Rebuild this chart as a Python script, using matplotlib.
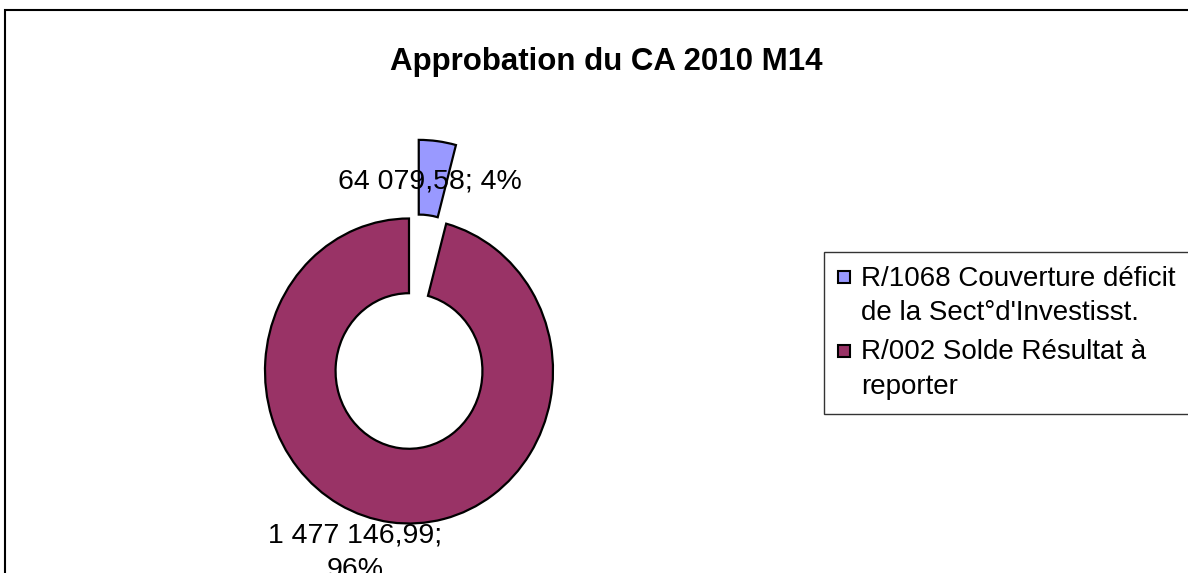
import matplotlib.pyplot as plt
from matplotlib.lines import Line2D
from matplotlib.patches import Rectangle

plt.rcParams['font.family'] = ['Liberation Sans', 'DejaVu Sans']

# data
labels = ["R/1068 Couverture déficit\nde la Sect°d'Investisst.",
          "R/002 Solde Résultat à\nreporter"]
values = [64079.58, 1477146.99]
colors = ['#9999FF', '#993366']
title = "Approbation du CA 2010 M14"


def fr_num(v):
    return f"{v:,.2f}".replace(",", " ").replace(".", ",")


total = sum(values)
pct = [round(v / total * 100) for v in values]

W, H = 1188, 573
fig = plt.figure(figsize=(W / 100, H / 100), dpi=100)

# pie in unit radius, axes scaled so radius = 144 px wide, 152 px tall
cx, cy = 409, H - 371
rx, ry = 144, 152.5
ax = fig.add_axes([0, 0, 1, 1])
wedges, _ = ax.pie(values, colors=colors, startangle=90, counterclock=False,
                   explode=[0.52, 0], radius=1,
                   wedgeprops=dict(width=0.49, edgecolor='black', linewidth=1.6),
                   frame=False)
ax.set_aspect('auto')
ax.set_xlim(-cx / rx, (W - cx) / rx)
ax.set_ylim(-cy / ry, (H - cy) / ry)
ax.axis('off')

# data labels
fig.text(430 / W, 1 - 189 / H, f"{fr_num(values[0])}; {pct[0]}%",
         ha='center', va='baseline', fontsize=20.5)
fig.text(355 / W, 1 - 577 / H, f"{fr_num(values[1])};\n{pct[1]}%",
         ha='center', va='baseline', fontsize=20.5, linespacing=1.4)

fig.text(606 / W, 1 - 70 / H, title, ha='center', va='baseline',
         fontsize=22.5, fontweight='bold')

# outer frame
fig.add_artist(Rectangle((5 / W, -0.1), 1.2, (H - 10) / H + 0.1,
                         transform=fig.transFigure, fill=False,
                         edgecolor='black', linewidth=1.5))

handles = [Line2D([], [], marker='s', linestyle='none', markersize=9,
                  markerfacecolor=c, markeredgecolor='black', markeredgewidth=1.5)
           for c in colors]
leg = fig.legend(handles, labels, loc='upper left', mode='expand',
                 bbox_to_anchor=(824 / W, 1 - 252 / H, 400 / W, 0),
                 fontsize=20, frameon=True, fancybox=False, borderpad=0.5,
                 handlelength=0.45, handleheight=1.1, handletextpad=0.38,
                 labelspacing=0.47, borderaxespad=0)
leg.get_frame().set_edgecolor('black')
leg.get_frame().set_linewidth(1.0)
for t in leg.get_texts():
    t.set_linespacing(1.42)
# marker next to first line of each wrapped label
for col in leg._legend_handle_box.get_children():
    for row in col.get_children():
        row.align = 'top'

fig.savefig('out.png', dpi=100)
